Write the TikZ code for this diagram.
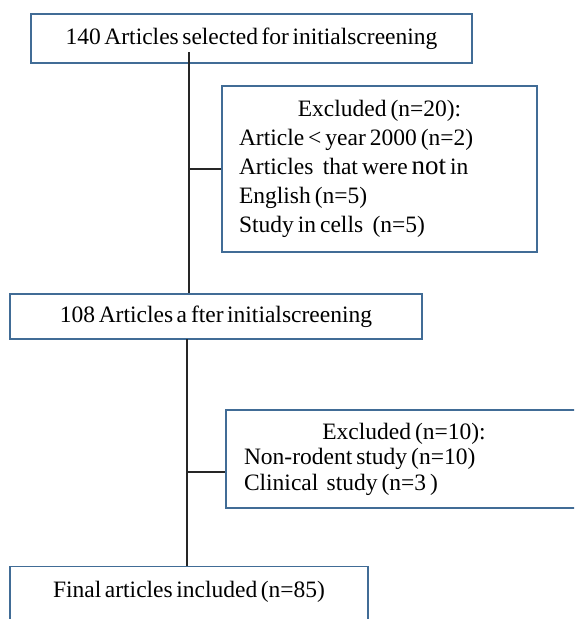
\documentclass[tikz,border=0pt]{standalone}
\usepackage{fontspec}
\setmainfont[WordSpace=0.6]{Liberation Serif}
\definecolor{boxblue}{RGB}{65,108,150}
\tikzset{
  box/.style={draw=boxblue, line width=1.2pt, fill=white, inner sep=0pt,
    font=\fontsize{23.5}{29}\selectfont},
  listbox/.style={box, align=left, execute at begin node={\spaceskip=0.17em\relax}},
  link/.style={draw=black!85, line width=1.4pt}
}
\begin{document}
\begin{tikzpicture}[x=1pt,y=-1pt]
  \clip (0,0) rectangle (574,619);
  \fill[white] (0,0) rectangle (574,619);
  % boxes
  \node[box, minimum width=441pt, minimum height=49pt] (selected) at (251.5,38.5)
    {140 Articles selected for initialscreening};
  \node[listbox, text width=281pt, inner xsep=17pt, minimum height=166pt] (excludedA) at (379.5,169)
    {\makebox[\linewidth]{Excluded (n=20):}\\
     Article < year 2000 (n=2)\\
     Articles\hspace{0.4em}that were {\fontsize{27}{29}\selectfont not} in\\
     English (n=5)\\
     Study in cells\hspace{0.4em}(n=5)};
  \node[box, minimum width=412pt, minimum height=45pt] (after) at (216,316.5)
    {108 Articles a\,fter initialscreening};
  \node[listbox, text width=320pt, inner xsep=18pt, minimum height=98pt,
    font=\fontsize{23.5}{25.5}\selectfont] (excludedB) at (404,459)
    {\makebox[\linewidth]{Excluded (n=10):}\\
     Non-rodent study (n=10)\\
     Clinical\hspace{0.35em}study (n=3\,)};
  \node[box, anchor=north, minimum width=358pt, inner ysep=16pt, text height=15pt, text depth=30pt] (final) at (189,566)
    {Final articles included (n=85)};
  % connectors
  \coordinate (trunkA) at (189,52);
  \coordinate (trunkB) at (187,339);
  \coordinate (stubB) at ([yshift=-13pt]excludedB.west);
  \draw[link] (trunkA) -- (trunkA |- after.north);
  \draw[link] (trunkA |- excludedA.west) -- (excludedA.west);
  \draw[link] (trunkB) -- (trunkB |- final.north);
  \draw[link] (trunkB |- stubB) -- (stubB);
\end{tikzpicture}
\end{document}
